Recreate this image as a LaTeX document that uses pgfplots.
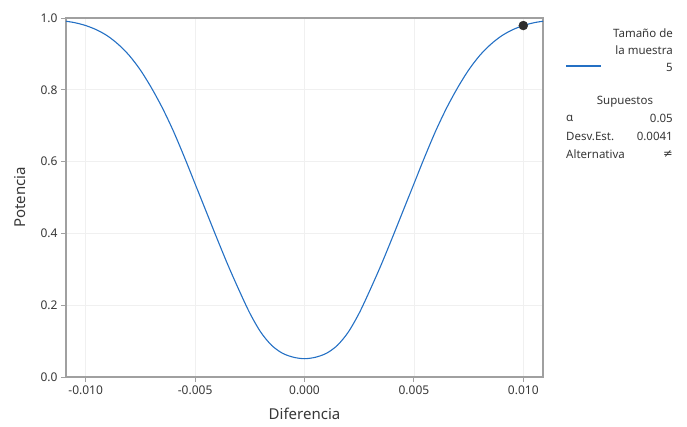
\documentclass[border=0pt]{standalone}
\usepackage{fontspec}
\setmainfont{Noto Sans}
\newfontfamily\symfont{DejaVu Sans}
\usepackage{pgfplots}
\pgfplotsset{compat=1.18}
\definecolor{curveblue}{RGB}{36,112,196}
\definecolor{framegray}{RGB}{160,160,160}
\definecolor{txt}{RGB}{55,55,55}
\definecolor{dotgray}{RGB}{45,45,45}

\begin{document}
\begin{tikzpicture}[x=1pt,y=1pt]
\path[use as bounding box] (0,0) rectangle (687,-426);
\begin{axis}[
  at={(66pt,-377pt)}, anchor=south west,
  width=477pt, height=359pt, scale only axis,
  xmin=-0.0109, xmax=0.0109, ymin=0, ymax=1,
  xtick={-0.01,-0.005,0,0.005,0.01},
  ytick={0,0.2,0.4,0.6,0.8,1},
  scaled x ticks=false,
  tick pos=left,
  /pgf/number format/assume math mode=true,
  xticklabel style={/pgf/number format/.cd, fixed, fixed zerofill, precision=3},
  yticklabel style={/pgf/number format/.cd, fixed, fixed zerofill, precision=1},
  ticklabel style={font=\fontsize{12}{14}\selectfont, text=txt},
  label style={font=\fontsize{15}{18}\selectfont, text=txt},
  xlabel={Diferencia},
  ylabel={Potencia},
  xlabel style={at={(axis description cs:0.5,-0.103)}, anchor=center},
  ylabel style={at={(axis description cs:-0.097,0.5)}, anchor=center},
  tick align=outside,
  major tick length=5pt,
  tick style={framegray, line width=1pt},
  axis line style={framegray, line width=1.5pt},
  xmajorgrids, ymajorgrids,
  major grid style={black!6, line width=0.8pt},
  clip=false,
]
\addplot[curveblue, line width=1.1pt, smooth] coordinates {
(-0.0109,0.991) (-0.0105,0.987) (-0.0100,0.979) (-0.0095,0.967) (-0.0090,0.950)
(-0.0085,0.926) (-0.0080,0.895) (-0.0075,0.855) (-0.0070,0.806) (-0.0065,0.750)
(-0.0060,0.686) (-0.0055,0.614) (-0.0050,0.538) (-0.0045,0.462) (-0.0040,0.386)
(-0.0035,0.312) (-0.0030,0.243) (-0.0025,0.178) (-0.0020,0.125) (-0.0015,0.088)
(-0.0010,0.066) (-0.0005,0.055) (0.0000,0.051)
(0.0005,0.055) (0.0010,0.066) (0.0015,0.088) (0.0020,0.125) (0.0025,0.178)
(0.0030,0.243) (0.0035,0.312) (0.0040,0.386) (0.0045,0.462) (0.0050,0.538)
(0.0055,0.614) (0.0060,0.686) (0.0065,0.750) (0.0070,0.806) (0.0075,0.855)
(0.0080,0.895) (0.0085,0.926) (0.0090,0.950) (0.0095,0.967) (0.0100,0.979)
(0.0105,0.987) (0.0109,0.991)
};
\addplot[only marks, mark=*, mark size=4.5pt, dotgray] coordinates {(0.010,0.979)};
\end{axis}
% legend panel
\begin{scope}[every node/.style={font=\fontsize{11.5}{13}\selectfont, text=txt, inner sep=0pt}]
\node[anchor=east] at (673,-33) {Tamaño de};
\node[anchor=east] at (673,-50) {la muestra};
\draw[curveblue, line width=1.3pt] (566,-66) -- (601,-66);
\node[anchor=east] at (673,-67) {5};
\node[anchor=center] at (625,-102) {Supuestos};
\node[anchor=west] at (566,-118) {α};
\node[anchor=east] at (673,-118) {0.05};
\node[anchor=west] at (566,-136) {Desv.Est.};
\node[anchor=east] at (673,-136) {0.0041};
\node[anchor=west] at (566,-154) {Alternativa};
\node[anchor=east] at (673,-154) {\symfont ≠};
\end{scope}
\end{tikzpicture}
\end{document}
